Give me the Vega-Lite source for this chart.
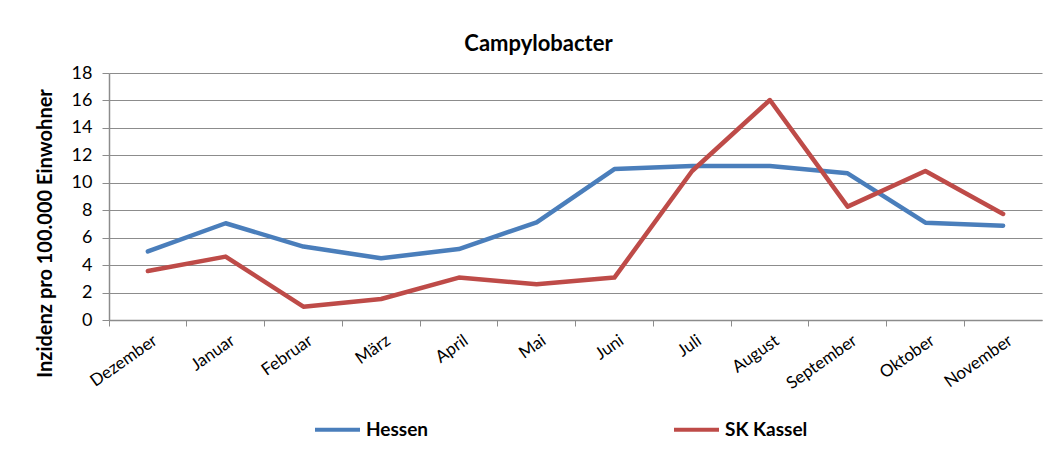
{
  "$schema": "https://vega.github.io/schema/vega-lite/v6.json",
  "width": 933,
  "height": 247,
  "autosize": {"type": "none"},
  "padding": {"left": 109, "top": 73, "right": 8, "bottom": 137},
  "background": "white",
  "title": {
    "text": "Campylobacter",
    "font": "Lato",
    "fontSize": 22,
    "fontWeight": "bold",
    "color": "#000000",
    "anchor": "middle",
    "dx": -37,
    "offset": 8
  },
  "data": {
    "values": [
      {"Monat": "Dezember", "Region": "Hessen", "Wert": 5.0},
      {"Monat": "Januar", "Region": "Hessen", "Wert": 7.05},
      {"Monat": "Februar", "Region": "Hessen", "Wert": 5.35},
      {"Monat": "März", "Region": "Hessen", "Wert": 4.5},
      {"Monat": "April", "Region": "Hessen", "Wert": 5.17},
      {"Monat": "Mai", "Region": "Hessen", "Wert": 7.12},
      {"Monat": "Juni", "Region": "Hessen", "Wert": 11.0},
      {"Monat": "Juli", "Region": "Hessen", "Wert": 11.22},
      {"Monat": "August", "Region": "Hessen", "Wert": 11.22},
      {"Monat": "September", "Region": "Hessen", "Wert": 10.69},
      {"Monat": "Oktober", "Region": "Hessen", "Wert": 7.09},
      {"Monat": "November", "Region": "Hessen", "Wert": 6.87},
      {"Monat": "Dezember", "Region": "SK Kassel", "Wert": 3.57},
      {"Monat": "Januar", "Region": "SK Kassel", "Wert": 4.62},
      {"Monat": "Februar", "Region": "SK Kassel", "Wert": 0.97},
      {"Monat": "März", "Region": "SK Kassel", "Wert": 1.53},
      {"Monat": "April", "Region": "SK Kassel", "Wert": 3.09},
      {"Monat": "Mai", "Region": "SK Kassel", "Wert": 2.6},
      {"Monat": "Juni", "Region": "SK Kassel", "Wert": 3.09},
      {"Monat": "Juli", "Region": "SK Kassel", "Wert": 10.86},
      {"Monat": "August", "Region": "SK Kassel", "Wert": 16.03},
      {"Monat": "September", "Region": "SK Kassel", "Wert": 8.26},
      {"Monat": "Oktober", "Region": "SK Kassel", "Wert": 10.86},
      {"Monat": "November", "Region": "SK Kassel", "Wert": 7.73}
    ]
  },
  "mark": {"type": "line", "strokeWidth": 4.5, "strokeJoin": "round", "strokeCap": "round"},
  "encoding": {
    "x": {
      "field": "Monat",
      "type": "nominal",
      "sort": ["Dezember", "Januar", "Februar", "März", "April", "Mai", "Juni", "Juli", "August", "September", "Oktober", "November"],
      "scale": {"type": "band", "paddingInner": 0, "paddingOuter": 0},
      "axis": {
        "title": null,
        "bandPosition": 0,
        "labelOffset": 3,
        "labelAngle": -35,
        "labelAlign": "right",
        "labelBaseline": "top",
        "labelPadding": 6,
        "labelFont": "Lato",
        "labelFontSize": 17,
        "labelColor": "#000000",
        "domainColor": "#8c8c8c",
        "domainWidth": 1.5,
        "tickColor": "#8c8c8c",
        "tickSize": 6,
        "grid": false
      }
    },
    "y": {
      "field": "Wert",
      "type": "quantitative",
      "scale": {"domain": [0, 18], "nice": false},
      "axis": {
        "title": "Inzidenz pro 100.000 Einwohner",
        "titleFont": "Lato",
        "titleFontSize": 20,
        "titleFontWeight": "bold",
        "titleColor": "#000000",
        "titleAngle": -90,
        "titleAlign": "center",
        "titleBaseline": "middle",
        "titleX": -64,
        "titleY": 160,
        "values": [0, 2, 4, 6, 8, 10, 12, 14, 16, 18],
        "labelFont": "Lato",
        "labelFontSize": 18,
        "labelColor": "#000000",
        "labelPadding": 10,
        "domainColor": "#8c8c8c",
        "domainWidth": 1.5,
        "tickColor": "#8c8c8c",
        "tickSize": 7,
        "gridColor": "#8c8c8c",
        "gridWidth": 1.2
      }
    },
    "color": {
      "field": "Region",
      "type": "nominal",
      "scale": {"domain": ["Hessen", "SK Kassel"], "range": ["#4A7EBB", "#BE4B48"]},
      "legend": {
        "title": null,
        "orient": "none",
        "direction": "horizontal",
        "columns": 2,
        "legendX": 204,
        "legendY": 332,
        "symbolType": "stroke",
        "symbolSize": 2025,
        "symbolStrokeWidth": 4,
        "labelFont": "Lato",
        "labelFontSize": 19,
        "labelFontWeight": "bold",
        "labelColor": "#000000",
        "labelOffset": 4,
        "columnPadding": 237
      }
    }
  },
  "config": {
    "view": {"stroke": null}
  }
}
